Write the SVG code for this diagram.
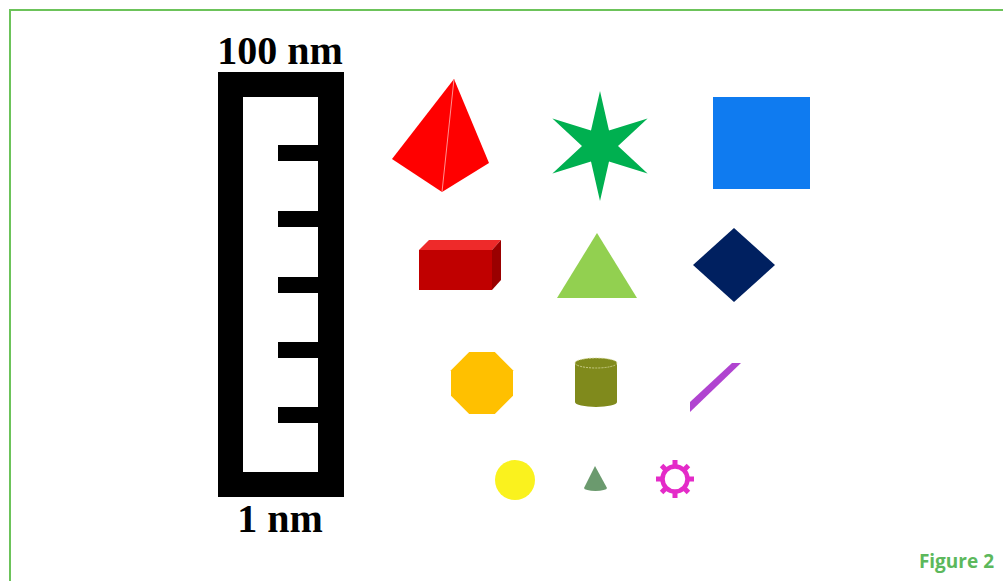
<svg xmlns="http://www.w3.org/2000/svg" width="1003" height="581" viewBox="0 0 1003 581">
<style>
.lbl{font-family:"Liberation Serif","Times New Roman",serif;font-weight:bold;font-size:40px;fill:#000;text-anchor:middle}
.fig{font-family:"Open Sans","Noto Sans",sans-serif;font-weight:bold;font-size:19px;fill:#5cb85c;text-anchor:end}
.tick{fill:#000}
</style>
<rect width="1003" height="581" fill="#fff"/>
<rect x="10" y="10" width="1003" height="580" fill="none" stroke="#6cc35a" stroke-width="2"/>
<g id="ruler">
<path d="M218,72 H344 V497 H218 Z M243,97 V472 H318 V97 Z" fill="#000" fill-rule="evenodd"/>
<rect class="tick" x="278" y="145" width="40" height="16"/>
<rect class="tick" x="278" y="211" width="40" height="16"/>
<rect class="tick" x="278" y="277" width="40" height="16"/>
<rect class="tick" x="278" y="342" width="40" height="16"/>
<rect class="tick" x="278" y="407" width="40" height="16"/>
<text class="lbl" x="280" y="64">100 nm</text>
<text class="lbl" x="280" y="532">1 nm</text>
</g>
<g id="pyramid">
<polygon points="454,79 392,159 442,192 489,163" fill="#ff0000"/>
<line x1="454" y1="79" x2="442" y2="192" stroke="#ff9090" stroke-width="1"/>
</g>
<g id="star">
<polygon points="600,91 609,130.4 647.6,118.5 618,146 647.6,173.5 609,161.6 600,201 591,161.6 552.4,173.5 582,146 552.4,118.5 591,130.4" fill="#00b050"/>
</g>
<g id="square"><rect x="713" y="97" width="97" height="92" fill="#0f7bf0"/></g>
<g id="box">
<polygon points="419,250 429,240 501,240 492,250" fill="#ee2a2a"/>
<polygon points="492,250 501,240 501,280 492,290" fill="#9a0000"/>
<rect x="419" y="250" width="73" height="40" fill="#c00000"/>
</g>
<g id="triangle"><polygon points="597,233 557,298 637,298" fill="#92d050"/></g>
<g id="diamond"><polygon points="734,228 775,265 734,302 693,265" fill="#002060"/></g>
<g id="octagon"><polygon points="469.2,352 494.8,352 513,370.2 513,395.8 494.8,414 469.2,414 451,395.8 451,370.2" fill="#ffc000"/></g>
<g id="cylinder">
<path d="M575,363 V402 A21,5 0 0 0 617,402 V363 Z" fill="#808a1c"/>
<ellipse cx="596" cy="363" rx="21" ry="5" fill="#808a1c" stroke="#d8dca0" stroke-width="0.8" stroke-dasharray="2,1"/>
</g>
<g id="line"><polygon points="690,402 732,363 741,363 690,412" fill="#b044d0"/></g>
<g id="circle"><circle cx="515" cy="480" r="20" fill="#faf21e"/></g>
<g id="cone">
<path d="M595,466 L584,488 A11.5,3 0 0 0 607,488 Z" fill="#6b9a6e"/>
</g>
<g id="gear" transform="translate(675,479)" fill="#e42bc8">
<circle r="12.5" fill="none" stroke="#e42bc8" stroke-width="4.5"/>
<rect x="-2.5" y="-19" width="5" height="8"/>
<rect x="-2.5" y="-19" width="5" height="8" transform="rotate(45)"/>
<rect x="-2.5" y="-19" width="5" height="8" transform="rotate(90)"/>
<rect x="-2.5" y="-19" width="5" height="8" transform="rotate(135)"/>
<rect x="-2.5" y="-19" width="5" height="8" transform="rotate(180)"/>
<rect x="-2.5" y="-19" width="5" height="8" transform="rotate(225)"/>
<rect x="-2.5" y="-19" width="5" height="8" transform="rotate(270)"/>
<rect x="-2.5" y="-19" width="5" height="8" transform="rotate(315)"/>
</g>
<text class="fig" x="994" y="568">Figure 2</text>
</svg>
